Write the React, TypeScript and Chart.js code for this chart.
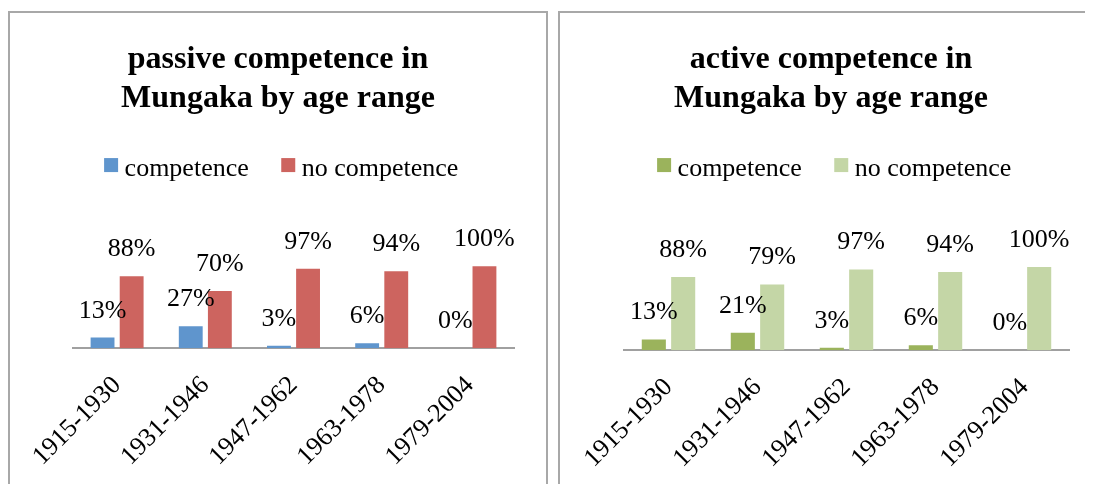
import React, { useEffect, useRef } from "react";
import { Chart, registerables } from "chart.js";

Chart.register(...registerables);

const categories = ["1915-1930", "1931-1946", "1947-1962", "1963-1978", "1979-2004"];
const seriesLabels = ["competence", "no competence"];
const passiveCompetence = [13, 27, 3, 6, 0];
const passiveNoCompetence = [88, 70, 97, 94, 100];
const activeCompetence = [13, 21, 3, 6, 0];
const activeNoCompetence = [88, 79, 97, 94, 100];
const passiveTitle = ["passive competence in", "Mungaka by age range"];
const activeTitle = ["active competence in", "Mungaka by age range"];

const FONT = "'Liberation Serif', 'Times New Roman', serif";
const CLEAR = "rgba(0,0,0,0)";

const valueLabels = {
  id: "valueLabels",
  afterDatasetsDraw(chart: any) {
    const ctx = chart.ctx;
    ctx.save();
    ctx.font = `26px ${FONT}`;
    ctx.fillStyle = "#000";
    ctx.textAlign = "center";
    ctx.textBaseline = "alphabetic";
    chart.data.datasets.forEach((ds: any, i: number) => {
      const meta = chart.getDatasetMeta(i);
      meta.data.forEach((bar: any, j: number) => {
        ctx.fillText(`${ds.data[j]}%`, bar.x, bar.y - 20);
      });
    });
    ctx.restore();
  },
};

// Draws legend squares/text at the hit boxes computed by Chart.js' legend,
// with the tighter square-to-text gap of the original.
const customLegend = {
  id: "customLegend",
  afterDraw(chart: any) {
    const legend = chart.legend;
    if (!legend || !legend.legendHitBoxes) return;
    const ctx = chart.ctx;
    ctx.save();
    ctx.font = `26px ${FONT}`;
    ctx.textAlign = "left";
    ctx.textBaseline = "alphabetic";
    legend.legendItems.forEach((item: any, i: number) => {
      const hb = legend.legendHitBoxes[i];
      const ds = chart.data.datasets[item.datasetIndex];
      const bx = hb.left + 6.5;
      const by = hb.top + 6;
      ctx.fillStyle = ds.backgroundColor;
      ctx.fillRect(bx, by, 14, 14);
      ctx.fillStyle = "#000";
      ctx.fillText(item.text, bx + 20.5, by + 18);
    });
    ctx.restore();
  },
};

type BoxProps = {
  left: number;
  width: number;
  title: string[];
  a: number[];
  b: number[];
  colors: string[];
  yMax: number;
  padSide: number;
  padBottom: number;
};

function ChartBox(p: BoxProps) {
  const ref = useRef<HTMLCanvasElement>(null);
  useEffect(() => {
    if (!ref.current) return;
    const chart = new Chart(ref.current, {
      type: "bar",
      data: {
        labels: categories,
        datasets: [
          {
            label: seriesLabels[0],
            data: p.a,
            backgroundColor: p.colors[0],
            barPercentage: 0.82,
            categoryPercentage: 0.66,
          },
          {
            label: seriesLabels[1],
            data: p.b,
            backgroundColor: p.colors[1],
            barPercentage: 0.82,
            categoryPercentage: 0.66,
          },
        ],
      },
      options: {
        responsive: false,
        maintainAspectRatio: false,
        animation: false,
        layout: {
          padding: { left: p.padSide, right: p.padSide, top: 0, bottom: p.padBottom },
        },
        plugins: {
          title: {
            display: true,
            text: p.title,
            color: "#000",
            font: { family: FONT, size: 32, weight: "bold", lineHeight: 1.22 },
            padding: { top: 27, bottom: 8 },
          },
          legend: {
            display: true,
            position: "top",
            labels: {
              boxWidth: 14,
              boxHeight: 14,
              padding: 26,
              color: CLEAR,
              font: { family: FONT, size: 26 },
              generateLabels(chart: any) {
                const items = Chart.defaults.plugins.legend.labels.generateLabels(chart);
                return items.map((it: any) => ({
                  ...it,
                  fillStyle: CLEAR,
                  strokeStyle: CLEAR,
                  lineWidth: 0,
                  fontColor: CLEAR,
                }));
              },
            },
          },
          tooltip: { enabled: false },
        },
        scales: {
          x: {
            grid: { display: false },
            border: { display: true, color: "#a0a0a0", width: 2 },
            ticks: {
              color: "#000",
              font: { family: FONT, size: 26 },
              maxRotation: 45,
              minRotation: 45,
              autoSkip: false,
              padding: 14,
            },
          },
          y: {
            display: true,
            min: 0,
            max: p.yMax,
            grid: { display: false },
            border: { display: false },
            ticks: { display: false },
            afterFit(scale: any) {
              scale.width = 31;
            },
          },
        },
      },
      plugins: [valueLabels, customLegend],
    });
    return () => chart.destroy();
  }, []);
  return (
    <div
      style={{
        position: "absolute",
        left: p.left,
        top: 3,
        width: p.width,
        height: 500,
        border: "2px solid #a8a8a8",
        background: "#fff",
      }}
    >
      <canvas ref={ref} width={p.width} height={490} style={{ display: "block" }} />
    </div>
  );
}

export default function App() {
  return (
    <div style={{ position: "relative", width: 1085, height: 476, overflow: "hidden", background: "#fff" }}>
      <ChartBox
        left={0}
        width={536}
        title={passiveTitle}
        a={passiveCompetence}
        b={passiveNoCompetence}
        colors={["#5f95cd", "#cd645f"]}
        yMax={195.5}
        padSide={32}
        padBottom={17}
      />
      <ChartBox
        left={550}
        width={542}
        title={activeTitle}
        a={activeCompetence}
        b={activeNoCompetence}
        colors={["#9bb35c", "#c4d6a6"]}
        yMax={194.5}
        padSide={33}
        padBottom={15}
      />
    </div>
  );
}
